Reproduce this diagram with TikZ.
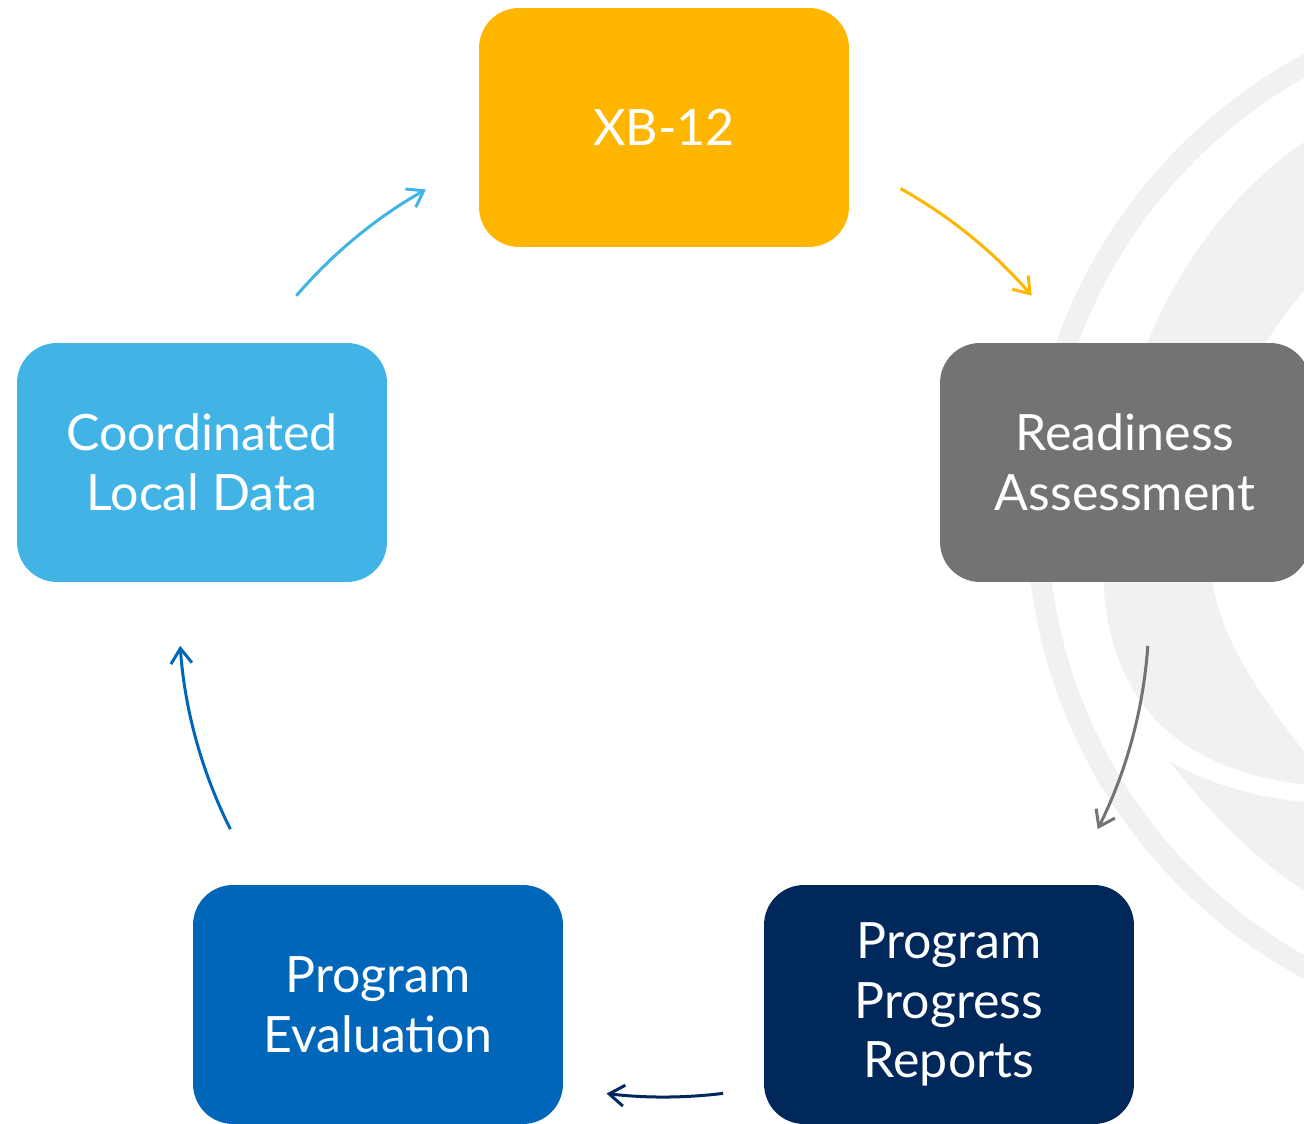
\documentclass[tikz,border=0pt]{standalone}
\usepackage{fontspec}
\setmainfont{Lato}
\usetikzlibrary{arrows.meta}
\definecolor{xbgold}{HTML}{FFB600}
\definecolor{readgray}{HTML}{737373}
\definecolor{navy}{HTML}{00285A}
\definecolor{evalblue}{HTML}{0066B9}
\definecolor{localblue}{HTML}{41B4E5}
\definecolor{swoosh}{HTML}{F0F1F0}
\begin{document}
\begin{tikzpicture}[x=0.02cm, y=0.02cm,
  box/.style={rounded corners=0.8cm, minimum width=7.4cm, minimum height=4.78cm, inner sep=0pt, align=center, text=white, font=\fontsize{28.5}{34}\selectfont},
  flow/.style={line width=0.06cm, -{Straight Barb[length=0.3cm,width=0.42cm]}}]
\useasboundingbox (0,0) rectangle (1304,1124);
\clip (0,0) rectangle (1304,1124);
\draw[swoosh, line width=0.42cm] (1550.6,607.5) circle[radius=513.5];
\fill[swoosh] (1320,992) .. controls (1200,920) and (1105,760) .. (1103,560)
  .. controls (1103,430) and (1170,350) .. (1320,338) -- (1320,352)
  .. controls (1250,440) and (1208,500) .. (1210,580)
  .. controls (1215,690) and (1250,780) .. (1320,850) -- cycle;
\fill[swoosh] (1170,362) .. controls (1210,340) and (1260,324) .. (1320,321) -- (1320,225) .. controls (1260,255) and (1205,318) .. (1170,362) -- cycle;
\node[box, fill=xbgold] (xb) at (664,996.5) {XB-12};
\node[box, fill=readgray] (ready) at (1125,661.5) {Readiness\\Assessment};
\node[box, fill=navy] (progress) at (949,119.5) {Program\\Progress\\Reports};
\node[box, fill=evalblue] (eval) at (378,119.5) {Program\\Evaluation};
\node[box, fill=localblue] (local) at (202,661.5) {Coordinated\\Local Data};
\coordinate (ring) at (664,512);
\draw[flow, xbgold] ([shift={(60.8:485)}]ring) arc[start angle=60.8, end angle=40.7, radius=485];
\draw[flow, readgray] ([shift={(-4:485)}]ring) arc[start angle=-4, end angle=-26.6, radius=485];
\draw[flow, navy] ([shift={(-83:485)}]ring) arc[start angle=-83, end angle=-96.8, radius=485];
\draw[flow, evalblue] ([shift={(206.6:485)}]ring) arc[start angle=206.6, end angle=184, radius=485];
\draw[flow, localblue] ([shift={(139.3:485)}]ring) arc[start angle=139.3, end angle=119.4, radius=485];
\end{tikzpicture}
\end{document}
